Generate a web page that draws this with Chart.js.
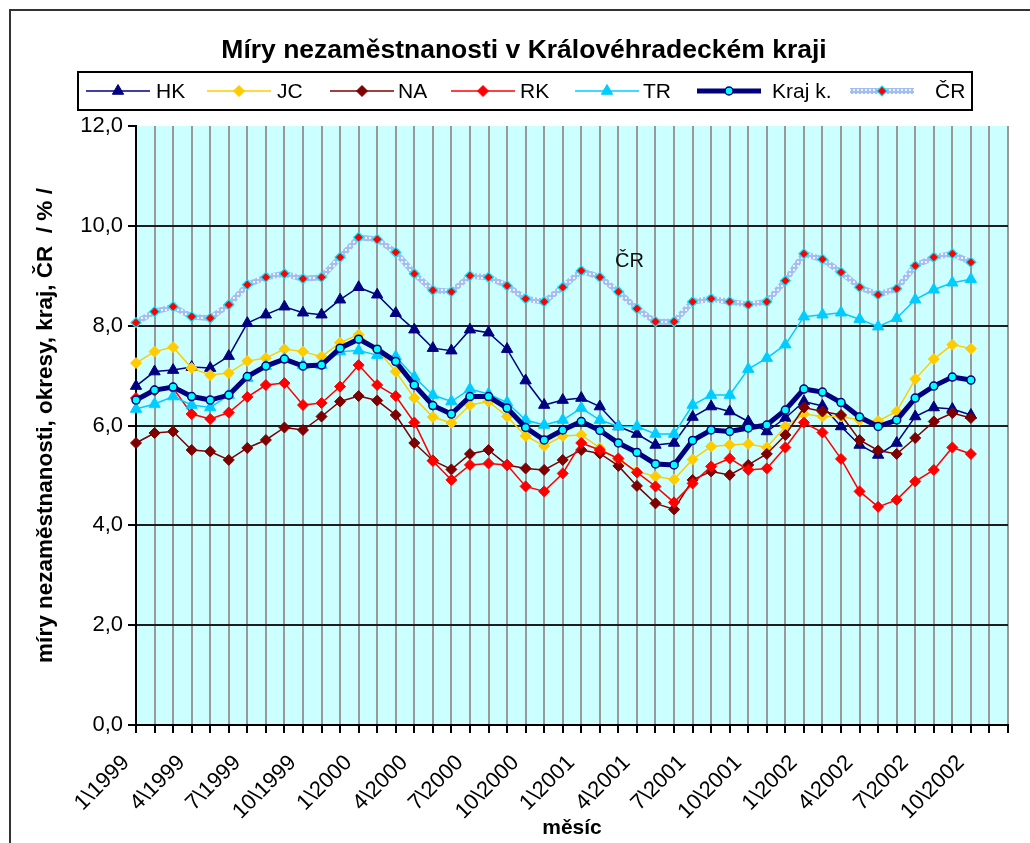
<!DOCTYPE html>
<html><head><meta charset="utf-8">
<script src="https://cdn.jsdelivr.net/npm/chart.js@4.4.1/dist/chart.umd.min.js"></script>
<style>html,body{margin:0;padding:0;background:#fff}#wrap{width:1030px;height:843px}</style>
</head><body><div id="wrap"><canvas id="c" width="1030" height="843"></canvas></div>
<script>
const months = ["1\\1999","2\\1999","3\\1999","4\\1999","5\\1999","6\\1999","7\\1999","8\\1999","9\\1999","10\\1999","11\\1999","12\\1999",
"1\\2000","2\\2000","3\\2000","4\\2000","5\\2000","6\\2000","7\\2000","8\\2000","9\\2000","10\\2000","11\\2000","12\\2000",
"1\\2001","2\\2001","3\\2001","4\\2001","5\\2001","6\\2001","7\\2001","8\\2001","9\\2001","10\\2001","11\\2001","12\\2001",
"1\\2002","2\\2002","3\\2002","4\\2002","5\\2002","6\\2002","7\\2002","8\\2002","9\\2002","10\\2002","11\\2002","12\\2002"];
const seriesNames = ["HK","JC","NA","RK","TR","Kraj k.","ČR"];
const hk = [6.79,7.08,7.11,7.17,7.15,7.39,8.05,8.22,8.38,8.26,8.22,8.52,8.77,8.62,8.25,7.92,7.55,7.50,7.92,7.86,7.53,6.90,6.41,6.51,6.55,6.38,5.98,5.83,5.61,5.65,6.17,6.38,6.28,6.08,5.88,6.15,6.48,6.39,5.98,5.61,5.41,5.65,6.18,6.36,6.33,6.21];
const jc = [7.25,7.48,7.57,7.15,7.01,7.05,7.29,7.35,7.53,7.48,7.38,7.66,7.82,7.52,7.08,6.55,6.17,6.05,6.41,6.48,6.18,5.79,5.59,5.79,5.81,5.55,5.31,5.08,4.98,4.92,5.32,5.58,5.61,5.63,5.56,5.98,6.23,6.18,6.18,6.11,6.09,6.28,6.93,7.33,7.62,7.54];
const na = [5.65,5.85,5.88,5.51,5.48,5.31,5.55,5.71,5.96,5.91,6.18,6.48,6.59,6.50,6.21,5.65,5.30,5.12,5.43,5.51,5.21,5.14,5.11,5.31,5.51,5.44,5.19,4.79,4.44,4.32,4.91,5.08,5.01,5.21,5.43,5.81,6.36,6.28,6.21,5.71,5.50,5.43,5.75,6.08,6.25,6.15];
const rk = [6.55,6.70,6.75,6.23,6.13,6.26,6.57,6.81,6.85,6.41,6.45,6.78,7.21,6.81,6.59,6.06,5.29,4.91,5.21,5.24,5.21,4.78,4.68,5.04,5.65,5.51,5.34,5.06,4.78,4.46,4.84,5.18,5.34,5.11,5.14,5.56,6.06,5.86,5.33,4.68,4.37,4.51,4.88,5.11,5.56,5.43];
const tr = [6.33,6.43,6.58,6.41,6.36,6.61,6.95,7.19,7.33,7.21,7.21,7.48,7.50,7.41,7.38,6.97,6.61,6.48,6.73,6.63,6.46,6.11,6.01,6.11,6.35,6.11,5.98,5.98,5.83,5.83,6.41,6.61,6.61,7.13,7.35,7.62,8.18,8.22,8.26,8.13,7.98,8.15,8.52,8.72,8.86,8.93];
const kraj = [6.51,6.71,6.77,6.58,6.51,6.61,6.98,7.19,7.33,7.19,7.21,7.55,7.73,7.53,7.28,6.81,6.40,6.23,6.58,6.58,6.35,5.96,5.71,5.91,6.08,5.90,5.65,5.46,5.23,5.21,5.70,5.91,5.88,5.95,6.01,6.31,6.73,6.67,6.46,6.17,5.98,6.11,6.55,6.79,6.97,6.91];
const cr = [8.06,8.28,8.38,8.18,8.15,8.42,8.82,8.97,9.04,8.94,8.97,9.37,9.77,9.73,9.47,9.04,8.71,8.68,9.00,8.97,8.80,8.54,8.48,8.77,9.10,8.97,8.68,8.34,8.08,8.08,8.48,8.54,8.48,8.42,8.48,8.90,9.44,9.33,9.07,8.77,8.62,8.74,9.20,9.37,9.44,9.27];
const yTicks = [0,2,4,6,8,10,12];
const titleText = "Míry nezaměstnanosti v Královéhradeckém kraji";
const yTitle = "míry nezaměstnanosti, okresy, kraj, ČR  / % /";
const xTitle = "měsíc";
const crNote = {text: "ČR", index: 26.6, value: 9.28};

const FONT = '"Liberation Sans", Arial, sans-serif';

// pattern for ČR line
const pc = document.createElement('canvas'); pc.width = 4; pc.height = 4;
const pctx = pc.getContext('2d');
pctx.fillStyle = '#a3bff2'; pctx.fillRect(0,0,4,4);
pctx.fillStyle = '#eef3ff'; pctx.fillRect(1,1,2,2);
const crPattern = pctx.createPattern(pc, 'repeat');

function ds(label, data, color, width, style, radius, bg, bc, bw, order) {
  return {label, data, borderColor: color, borderWidth: width, pointStyle: style, pointRadius: radius,
    pointHoverRadius: radius, pointBackgroundColor: bg, pointBorderColor: bc, pointBorderWidth: bw,
    tension: 0, fill: false, clip: false, order};
}

const datasets = [
  ds(seriesNames[0], hk, '#000080', 1.5, 'triangle', 6.5, '#000080', '#000080', 1, 7),
  ds(seriesNames[1], jc, '#FFCC00', 1.5, 'rectRot', 5.5, '#FFCC00', '#FFCC00', 1, 6),
  ds(seriesNames[2], na, '#800000', 1.5, 'rectRot', 5.5, '#800000', '#800000', 1, 5),
  ds(seriesNames[3], rk, '#FF0000', 1.5, 'rectRot', 5.5, '#FF0000', '#FF0000', 1, 4),
  ds(seriesNames[4], tr, '#00CCFF', 1.5, 'triangle', 6.5, '#00CCFF', '#00CCFF', 1, 3),
  ds(seriesNames[5], kraj, '#000080', 5, 'circle', 4, '#00FFFF', '#000080', 1.5, 2),
  ds(seriesNames[6], cr, crPattern, 6, 'rectRot', 5, '#FF0000', '#00E5FF', 1.2, 1)
];

function drawMarker(ctx, d, x, y) {
  ctx.fillStyle = d.pointBackgroundColor;
  ctx.strokeStyle = d.pointBorderColor;
  ctx.lineWidth = d.pointBorderWidth;
  if (Chart.helpers && Chart.helpers.drawPoint) {
    Chart.helpers.drawPoint(ctx, {pointStyle: d.pointStyle, rotation: 0, radius: d.pointRadius, borderWidth: d.pointBorderWidth}, x, y);
  }
}

const framePlugin = {
  id: 'frame',
  beforeDraw(chart) {
    const {ctx, chartArea: a} = chart;
    ctx.save();
    ctx.fillStyle = '#fff'; ctx.fillRect(0,0,chart.width,chart.height);
    ctx.strokeStyle = '#333'; ctx.lineWidth = 2;
    ctx.strokeRect(10, 10, chart.width + 50, chart.height + 50);
    ctx.fillStyle = '#CCFFFF';
    ctx.fillRect(a.left, a.top, a.right - a.left, a.bottom - a.top);
    ctx.restore();
  },
  afterDatasetsDraw(chart) {
    const {ctx} = chart;
    const xs = chart.scales.x, ys = chart.scales.y;
    ctx.save();
    ctx.font = '20px ' + FONT; ctx.fillStyle = '#111';
    ctx.textAlign = 'center'; ctx.textBaseline = 'middle';
    ctx.fillText(crNote.text, xs.getPixelForValue(crNote.index), ys.getPixelForValue(crNote.value));
    ctx.restore();
  },
  afterDraw(chart) {
    const {ctx} = chart;
    ctx.save();
    ctx.font = 'bold 26.5px ' + FONT; ctx.fillStyle = '#000';
    ctx.textAlign = 'center'; ctx.textBaseline = 'middle';
    ctx.fillText(titleText, 524, 51);
    // legend
    ctx.strokeStyle = '#000'; ctx.lineWidth = 2;
    ctx.strokeRect(78, 72, 894, 38);
    const starts = [86,207,330,451,575,697,850];
    const textX = [156,277,398,520,643,772,935];
    const y = 91;
    chart.data.datasets.forEach((d, i) => {
      const x0 = starts[i], x1 = x0 + 64;
      ctx.beginPath();
      ctx.strokeStyle = d.borderColor; ctx.lineWidth = d.borderWidth;
      ctx.moveTo(x0, y); ctx.lineTo(x1, y); ctx.stroke();
      drawMarker(ctx, d, (x0 + x1) / 2, y);
      ctx.font = '21px ' + FONT; ctx.fillStyle = '#000';
      ctx.textAlign = 'left'; ctx.textBaseline = 'middle';
      ctx.fillText(d.label, textX[i], y + 1);
    });
    ctx.restore();
  }
};

new Chart(document.getElementById('c'), {
  type: 'line',
  data: {labels: months, datasets},
  plugins: [framePlugin],
  options: {
    responsive: false, animation: false, devicePixelRatio: 1,
    layout: {padding: {top: 126, right: 22, left: 0, bottom: 0}},
    plugins: {legend: {display: false}, title: {display: false}, tooltip: {enabled: false}},
    events: [],
    scales: {
      x: {
        type: 'category',
        afterFit(s) { s.height = 118; s.paddingLeft = 0; s.paddingRight = 0; },
        grid: {color: '#999999', lineWidth: 2, tickColor: '#000', tickLength: 8, offset: false},
        border: {color: '#000', width: 2},
        ticks: {autoSkip: false, maxRotation: 45, minRotation: 45, padding: 17, labelOffset: -10,
          color: '#000', font: {family: FONT, size: 22},
          callback(v, i) { return i % 3 === 0 ? months[i] : ''; }},
        title: {display: true, text: xTitle, color: '#000', font: {family: FONT, size: 21, weight: 'bold'}, padding: {top: 0, bottom: 2}}
      },
      y: {
        min: 0, max: 12,
        afterFit(s) { s.width = 136; },
        afterBuildTicks(s) { s.ticks = yTicks.map(v => ({value: v})); },
        grid: {color: c => (c.tick && c.tick.value === 12) ? 'rgba(0,0,0,0)' : '#1e1e1e', lineWidth: 2, tickColor: '#000', tickLength: 8},
        border: {color: '#000', width: 2},
        ticks: {color: '#000', font: {family: FONT, size: 22}, padding: 5,
          callback(v) { return Number(v).toFixed(1).replace('.', ','); }},
        title: {display: true, text: yTitle, color: '#000', font: {family: FONT, size: 22.5, weight: 'bold'}, padding: {top: 32, bottom: 0}}
      }
    }
  }
});
</script></body></html>
